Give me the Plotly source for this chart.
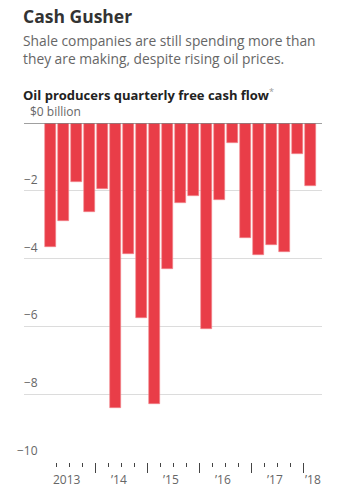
import plotly.graph_objects as go

# Data: quarterly free cash flow, $ billion, 2013 Q1 .. 2018 Q1
quarters = ["2013Q1","2013Q2","2013Q3","2013Q4",
            "2014Q1","2014Q2","2014Q3","2014Q4",
            "2015Q1","2015Q2","2015Q3","2015Q4",
            "2016Q1","2016Q2","2016Q3","2016Q4",
            "2017Q1","2017Q2","2017Q3","2017Q4",
            "2018Q1"]
cash_flow = [-3.66, -2.89, -1.75, -2.63,
             -1.95, -8.40, -3.87, -5.74,
             -8.28, -4.30, -2.37, -2.16,
             -6.08, -2.28, -0.59, -3.39,
             -3.89, -3.59, -3.81, -0.92,
             -1.86]
year_labels = ["2013", "\u201914", "\u201915", "\u201916", "\u201917", "\u201918"]
year_label_pos = [1.25, 5.25, 9.25, 13.25, 17.25, 20.2]
y_ticks = [0, -2, -4, -6, -8, -10]
y_tick_text = ["$0 billion", "\u22122", "\u22124", "\u22126", "\u22128", "\u221210"]

FONT = "Open Sans"
W, H = 344, 491
ML, MR, MT, MB = 24, 22, 123, 29
PW, PH = W - ML - MR, H - MT - MB
x_idx = list(range(len(quarters)))


def px_to_paper(px_x, px_y):
    return (px_x - ML) / PW, 1 + (MT - px_y) / PH


fig = go.Figure()
fig.add_trace(go.Bar(
    x=x_idx, y=cash_flow, width=0.82,
    marker=dict(color="#e93d48", line=dict(color="#f4868d", width=0.6)),
    hovertext=quarters, hoverinfo="text+y",
))

# quarter boundaries: minor ticks; year boundaries: major ticks
boundaries = [i - 0.5 for i in x_idx[1:]]
major = [b for b in boundaries if quarters[int(b + 0.5)].endswith("Q1")]
minor = [b for b in boundaries if b not in major]

fig.update_layout(
    width=W, height=H,
    margin=dict(l=ML, r=MR, t=MT, b=MB),
    paper_bgcolor="white", plot_bgcolor="white",
    showlegend=False,
    font=dict(family=FONT, color="#666"),
    bargap=0,
    xaxis=dict(
        range=[-2.02, 20.9], showgrid=False, zeroline=False, showline=False,
        tickvals=major, showticklabels=False,
        ticks="outside", ticklen=10, tickwidth=1, tickcolor="#444",
        minor=dict(tickvals=minor, ticks="outside", ticklen=4, tickwidth=1, tickcolor="#444"),
        fixedrange=True,
    ),
    yaxis=dict(
        range=[-10, 0], tickvals=y_ticks, showticklabels=False,
        showgrid=True, gridcolor="#dcdcdc", gridwidth=1,
        zeroline=False, showline=False, fixedrange=True,
    ),
)

# zero line
fig.add_shape(type="line", xref="paper", yref="y", x0=0, x1=1, y0=0, y1=0,
              line=dict(color="#808080", width=1.5))

# y tick labels above gridlines
for v, t in zip(y_ticks, y_tick_text):
    if v == 0:
        fig.add_annotation(x=4 / PW, y=v, xref="paper", yref="y", text=t,
                           showarrow=False, xanchor="left", yanchor="bottom",
                           yshift=1, font=dict(size=12, color="#666"))
    else:
        fig.add_annotation(x=16 / PW, y=v, xref="paper", yref="y", text=t,
                           showarrow=False, xanchor="right", yanchor="bottom",
                           yshift=1, font=dict(size=12, color="#666"))

# x year labels
for p, t in zip(year_label_pos, year_labels):
    fig.add_annotation(x=p, y=0, xref="x", yref="paper", text=t,
                       showarrow=False, xanchor="center", yanchor="top",
                       yshift=-7, font=dict(size=12, color="#666"))

# titles
tx, ty = px_to_paper(21, 2)
fig.add_annotation(x=tx, y=ty, xref="paper", yref="paper",
                   xanchor="left", yanchor="top", showarrow=False,
                   text="<b>Cash Gusher</b>", font=dict(size=17.5, color="#333"))
tx, ty = px_to_paper(21, 29)
fig.add_annotation(x=tx, y=ty, xref="paper", yref="paper",
                   xanchor="left", yanchor="top", showarrow=False, align="left",
                   text="Shale companies are still spending more than<br>they are making, despite rising oil prices.",
                   font=dict(size=13.8, color="#666"))
tx, ty = px_to_paper(21, 83)
fig.add_annotation(x=tx, y=ty, xref="paper", yref="paper",
                   xanchor="left", yanchor="top", showarrow=False,
                   text="<b>Oil producers quarterly free cash flow</b><sup><span style='color:#999'>*</span></sup>",
                   font=dict(size=13, color="#222"))

fig.write_html("out.html")
